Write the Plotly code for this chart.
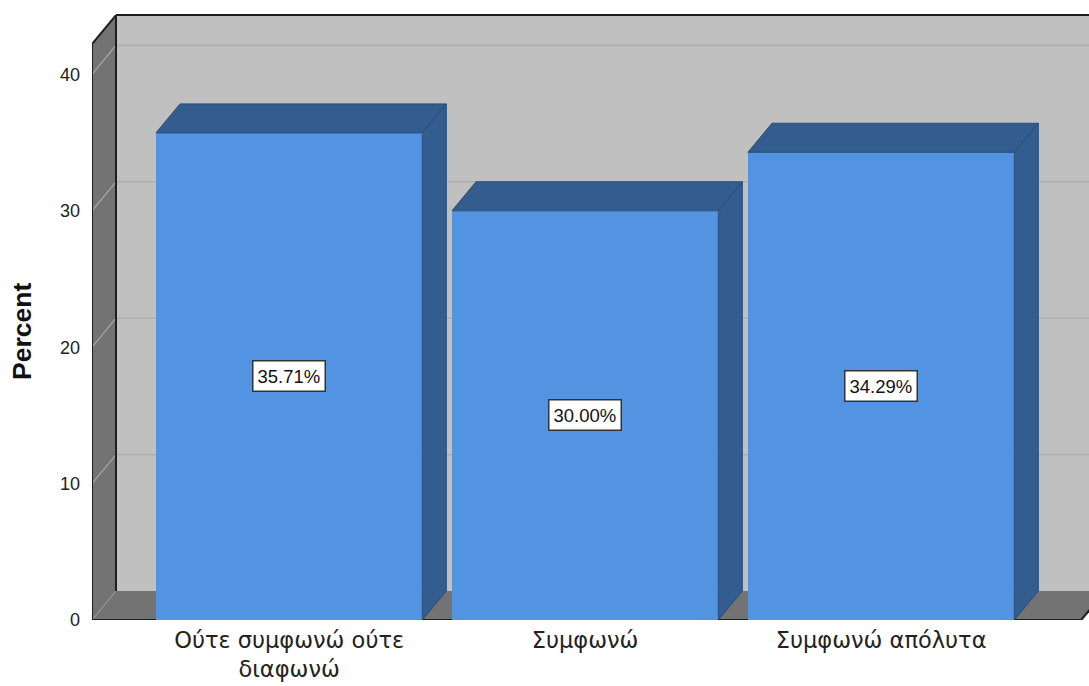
import plotly.graph_objects as go

# Data
categories = ["Ούτε συμφωνώ ούτε<br>διαφωνώ", "Συμφωνώ", "Συμφωνώ απόλυτα"]
percents = [35.71, 30.00, 34.29]
y_ticks = [0, 10, 20, 30, 40]

# Geometry of the pseudo-3D box (in axis units)
W, H = 1089, 686
M_L, M_R, M_T, M_B = 92, 0, 12, 66
PX_PER_CAT = 296.0
PX_PER_VAL = 13.64
X0 = -0.666
X1 = X0 + (W - M_L - M_R) / PX_PER_CAT
Y1 = (H - M_T - M_B) / PX_PER_VAL
DX = 24 / PX_PER_CAT
DY = 29 / PX_PER_VAL
XL = X0                 # front-left edge of the floor
XR = 2.676              # front-right edge of the floor
YTOP = 44.35            # top of back wall
BAR_W = 0.9

FRONT = "#5294E2"
DARK = "#335C8F"
EDGE = "#2A4D7A"
WALL = "#737373"
BACK = "#C0C0C0"
LINE = "#1E1E1E"

xs = list(range(len(categories)))


def poly(pts):
    p = "M " + " L ".join(f"{x},{y}" for x, y in pts) + " Z"
    return p


shapes = []
# back wall
shapes.append(dict(type="path", path=poly([(XL + DX, DY), (X1, DY), (X1, YTOP), (XL + DX, YTOP)]),
                   fillcolor=BACK, line=dict(width=0), layer="below"))
# gridlines on back wall
for v in y_ticks[1:]:
    shapes.append(dict(type="line", x0=XL + DX, x1=X1, y0=v + DY, y1=v + DY,
                       line=dict(color="#ADADAD", width=1.5), layer="below"))
# left wall
shapes.append(dict(type="path", path=poly([(XL, 0), (XL + DX, DY), (XL + DX, YTOP), (XL, YTOP - DY)]),
                   fillcolor=WALL, line=dict(width=0), layer="below"))
for v in y_ticks[1:]:
    shapes.append(dict(type="line", x0=XL, x1=XL + DX, y0=v, y1=v + DY,
                       line=dict(color="#A8A8A8", width=1.2), layer="below"))
# floor
shapes.append(dict(type="path", path=poly([(XL, 0), (XR, 0), (XR + DX, DY), (XL + DX, DY)]),
                   fillcolor=WALL, line=dict(width=0), layer="below"))
shapes.append(dict(type="line", x0=XL, x1=XL + DX, y0=0, y1=DY,
                   line=dict(color="#9A9A9A", width=1), layer="below"))
# dark frame edges
for (xa, ya, xb, yb) in [
    (XL, 0, XL, YTOP - DY),
    (XL, YTOP - DY, XL + DX, YTOP),
    (XL + DX, YTOP, X1, YTOP),
    (XL + DX, DY, XL + DX, YTOP),
    (XL, 0, XR, 0),
    (XR, 0, XR + DX, DY),
]:
    shapes.append(dict(type="line", x0=xa, x1=xb, y0=ya, y1=yb,
                       line=dict(color=LINE, width=2), layer="below"))

fig = go.Figure()

# front faces of the bars
fig.add_trace(go.Bar(x=xs, y=percents, width=BAR_W, marker=dict(color=FRONT, line=dict(width=0)),
                     hoverinfo="skip", showlegend=False))

# top and side faces of the bars
for x, v in zip(xs, percents):
    l, r = x - BAR_W / 2, x + BAR_W / 2
    top = [(l, v), (r, v), (r + DX, v + DY), (l + DX, v + DY), (l, v)]
    side = [(r, 0), (r + DX, DY), (r + DX, v + DY), (r, v), (r, 0)]
    for face in (top, side):
        fig.add_trace(go.Scatter(x=[p[0] for p in face], y=[p[1] for p in face], mode="lines",
                                 fill="toself", fillcolor=DARK, line=dict(color=EDGE, width=1),
                                 hoverinfo="skip", showlegend=False))

# value labels
annotations = []
for x, v in zip(xs, percents):
    annotations.append(dict(x=x, y=v / 2, text=f"{v:.2f}%", showarrow=False,
                            font=dict(family="Liberation Sans, Arial", size=18.5, color="#111111"),
                            bgcolor="white", bordercolor="#333333", borderwidth=1.5, borderpad=4))

# axis title
annotations.append(dict(xref="paper", yref="paper", x=(22 - M_L) / (W - M_L - M_R),
                        y=(H - M_B - 332) / (H - M_T - M_B), text="<b>Percent</b>", textangle=-90,
                        showarrow=False, xanchor="center", yanchor="middle",
                        font=dict(family="Liberation Sans, Arial", size=26.5, color="#111111")))

fig.update_layout(
    width=W, height=H,
    margin=dict(l=M_L, r=M_R, t=M_T, b=M_B),
    paper_bgcolor="white", plot_bgcolor="white",
    shapes=shapes, annotations=annotations,
    bargap=0,
    xaxis=dict(range=[X0, X1], tickvals=xs, ticktext=categories, showgrid=False, zeroline=False,
               showline=False, ticks="", ticklabelstandoff=4, automargin=False,
               tickfont=dict(family="DejaVu Sans", size=22.5, color="#222222")),
    yaxis=dict(range=[0, Y1], tickvals=y_ticks, showgrid=False, zeroline=False, showline=False,
               ticks="", ticklabelstandoff=11, automargin=False,
               tickfont=dict(family="Liberation Sans, Arial", size=18, color="#222222")),
)

fig.write_html("out.html")
